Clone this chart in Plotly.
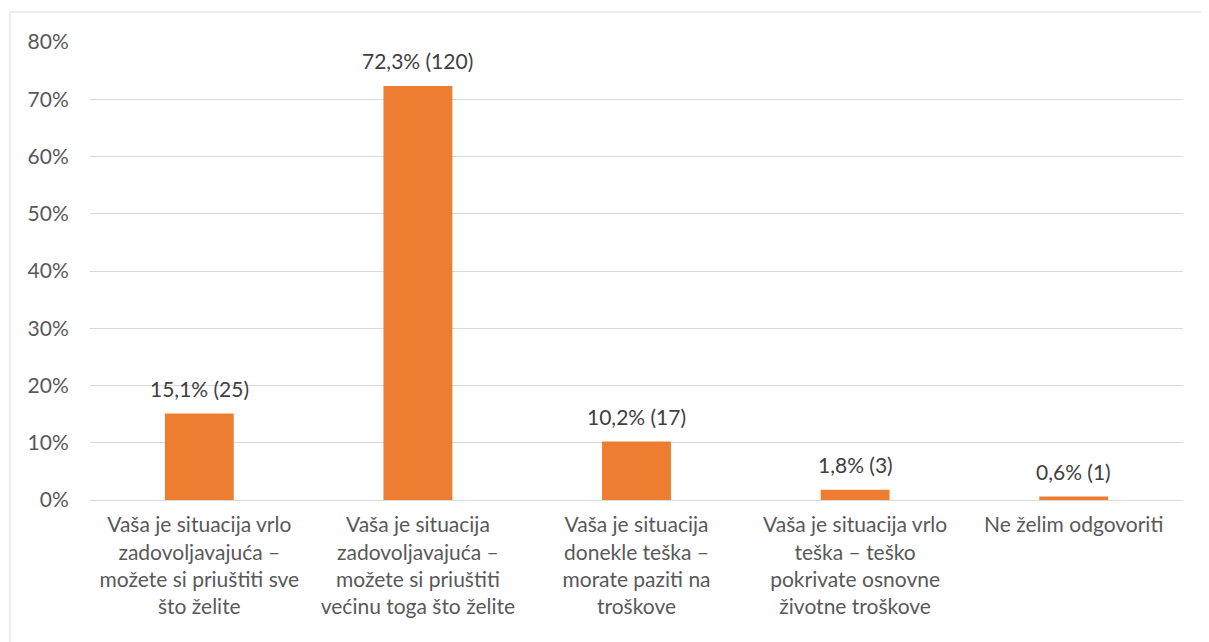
import plotly.graph_objects as go

categories = [
    "Vaša je situacija vrlo<br>zadovoljavajuća –<br>možete si priuštiti sve<br>što želite",
    "Vaša je situacija<br>zadovoljavajuća –<br>možete si priuštiti<br>većinu toga što želite",
    "Vaša je situacija<br>donekle teška –<br>morate paziti na<br>troškove",
    "Vaša je situacija vrlo<br>teška – teško<br>pokrivate osnovne<br>životne troškove",
    "Ne želim odgovoriti",
]
percent_values = [15.1, 72.3, 10.2, 1.8, 0.6]
counts = [25, 120, 17, 3, 1]
y_ticks = [0, 10, 20, 30, 40, 50, 60, 70, 80]

labels = [f"{v:.1f}".replace(".", ",") + f"% ({n})" for v, n in zip(percent_values, counts)]
y_ticktext = [f"{t}%" for t in y_ticks]
xpos = list(range(len(categories)))

FONT = "Lato"
FS = 21
fig = go.Figure()
fig.add_trace(go.Bar(
    x=xpos, y=percent_values,
    marker=dict(color="#ED7D31", line=dict(width=0)),
    width=0.315,
    hoverinfo="skip",
))

for x, y, t in zip(xpos, percent_values, labels):
    fig.add_annotation(
        x=x, y=y, text=t, showarrow=False, xref="x", yref="y",
        yanchor="bottom", yshift=11,
        font=dict(family=FONT, size=FS, color="#404040"),
    )

# outer chart border: only the left and top edges are visible in the page
bx0 = (10 - 90) / 1093
by1 = 1 + (42 - 12) / 458
border = dict(color="#D9D9D9", width=1)
fig.add_shape(type="line", xref="paper", yref="paper",
              x0=bx0, x1=1.2, y0=by1, y1=by1, line=border, layer="below")
fig.add_shape(type="line", xref="paper", yref="paper",
              x0=bx0, x1=bx0, y0=-1, y1=by1, line=border, layer="below")

fig.update_layout(
    width=1193, height=634,
    margin=dict(l=82, r=18, t=34, b=142),
    plot_bgcolor="white", paper_bgcolor="white",
    showlegend=False,
    font=dict(family=FONT, size=FS, color="#595959"),
    xaxis=dict(
        range=[-0.5, 4.5],
        tickvals=xpos, ticktext=categories,
        tickangle=0, showgrid=False, zeroline=False,
        showline=False, ticks="outside", ticklen=6, tickcolor="rgba(0,0,0,0)",
        tickfont=dict(family=FONT, size=FS, color="#595959"),
        fixedrange=True,
    ),
    yaxis=dict(
        range=[0, 80], tickvals=y_ticks, ticktext=y_ticktext,
        showgrid=True, gridcolor="#D9D9D9", gridwidth=1,
        zeroline=True, zerolinecolor="#D9D9D9", zerolinewidth=1,
        showline=False, ticks="outside", ticklen=16, tickcolor="rgba(0,0,0,0)",
        tickfont=dict(family=FONT, size=FS, color="#595959"),
        fixedrange=True,
    ),
)

fig.write_html("out.html")
